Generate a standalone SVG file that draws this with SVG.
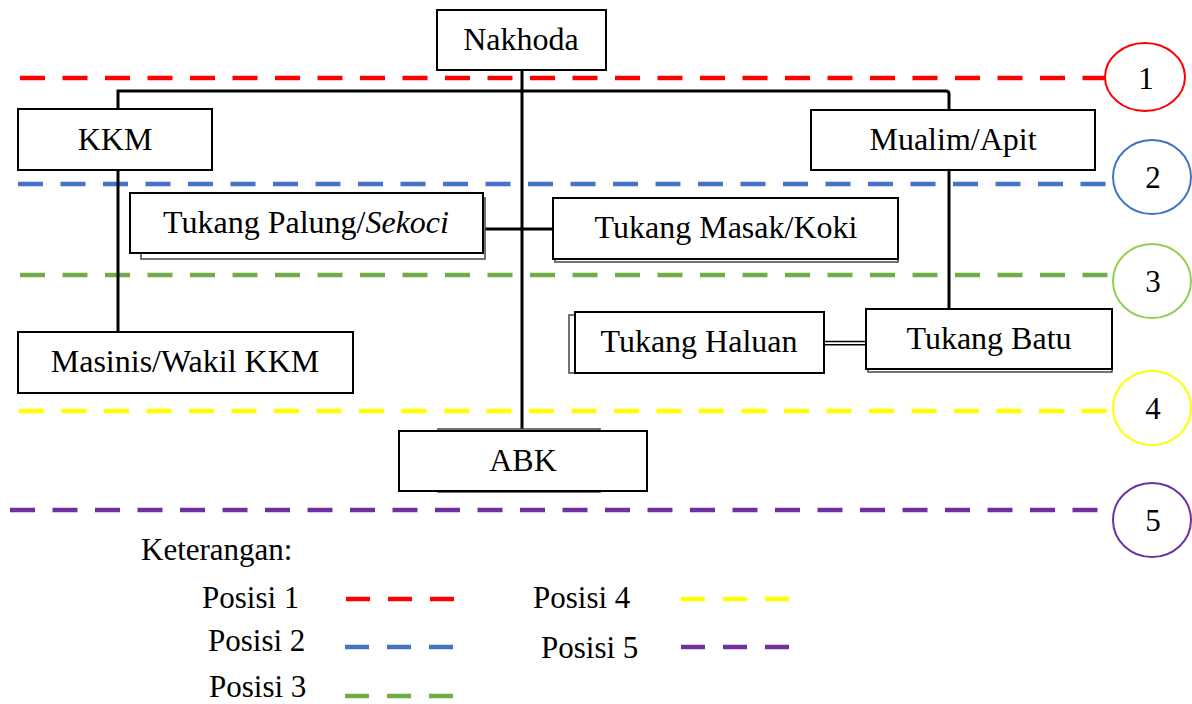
<svg xmlns="http://www.w3.org/2000/svg" width="1192" height="704" viewBox="0 0 1192 704">
<style>
.box{fill:#fff;stroke:#000;stroke-width:2}
.back{fill:#fff;stroke:#444;stroke-width:1.5}
.t{font-family:"Liberation Serif","Times New Roman",serif;font-size:32px;fill:#000;text-anchor:middle}
.n{font-family:"Liberation Serif","Times New Roman",serif;font-size:31px;fill:#000;text-anchor:middle}
.tl{font-family:"Liberation Serif","Times New Roman",serif;font-size:31px;fill:#000}
.c{fill:none;stroke:#000;stroke-width:3}
.d{fill:none;stroke-width:4.5;stroke-dasharray:25 17.5}
.ld{fill:none;stroke-width:4.5;stroke-dasharray:24 18}
.circ{fill:#fff;stroke-width:2}
</style>
<rect width="1192" height="704" fill="#fff"/>
<g id="levels">
<line class="d" x1="20" y1="78" x2="1105" y2="78" stroke="#ff0000"/>
<line class="d" x1="18" y1="184" x2="1113" y2="184" stroke="#4472c4"/>
<line class="d" x1="20" y1="275" x2="1113" y2="275" stroke="#70ad47"/>
<line class="d" x1="19" y1="411" x2="1113" y2="411" stroke="#ffff00"/>
<line class="d" x1="10" y1="510" x2="1103" y2="510" stroke="#7030a0"/>
</g>
<g id="connectors">
<line class="c" x1="522" y1="70" x2="522" y2="431"/>
<path class="c" d="M118 109 V91 H946 Q949 91 949 94 V110"/>
<line class="c" x1="118" y1="170" x2="118" y2="332"/>
<line class="c" x1="949" y1="170" x2="949" y2="309"/>
<line class="c" x1="483" y1="229" x2="553" y2="229"/>
<line x1="824" y1="341.5" x2="866" y2="341.5" stroke="#000" stroke-width="1.6"/>
<line x1="824" y1="344.8" x2="866" y2="344.8" stroke="#000" stroke-width="1.6"/>
</g>
<g id="nakhoda"><rect class="box" x="437" y="10" width="169" height="60"/><text class="t" x="521" y="50">Nakhoda</text></g>
<g id="kkm"><rect class="box" x="18" y="109" width="194" height="61"/><text class="t" x="115" y="150">KKM</text></g>
<g id="mualim"><rect class="box" x="811" y="110" width="284" height="60"/><text class="t" x="953" y="150">Mualim/Apit</text></g>
<g id="palung"><rect class="back" x="141" y="198" width="344" height="61"/><rect class="box" x="130" y="193" width="353" height="60"/><text class="t" x="306" y="233">Tukang Palung/<tspan font-style="italic">Sekoci</tspan></text></g>
<g id="masak"><rect class="back" x="555" y="201" width="343" height="61"/><rect class="box" x="553" y="198" width="345" height="61"/><text class="t" x="726" y="238">Tukang Masak/Koki</text></g>
<g id="haluan"><rect class="back" x="569" y="315" width="251" height="58"/><rect class="box" x="575" y="312" width="249" height="61"/><text class="t" x="699" y="352">Tukang Haluan</text></g>
<g id="batu"><rect class="back" x="868" y="312" width="244" height="60"/><rect class="box" x="866" y="309" width="246" height="60"/><text class="t" x="989" y="349">Tukang Batu</text></g>
<g id="masinis"><rect class="box" x="18" y="332" width="335" height="61"/><text class="t" x="185" y="372">Masinis/Wakil KKM</text></g>
<g id="abk"><rect class="back" x="438" y="429" width="162" height="63"/><rect class="box" x="399" y="431" width="248" height="60"/><text class="t" x="523" y="471">ABK</text></g>
<g id="circles">
<ellipse class="circ" cx="1145" cy="77" rx="40" ry="34" stroke="#ff0000"/><text class="n" x="1146" y="89">1</text>
<ellipse class="circ" cx="1152" cy="177" rx="39" ry="37" stroke="#4472c4"/><text class="n" x="1153" y="188">2</text>
<ellipse class="circ" cx="1152" cy="281" rx="39" ry="37" stroke="#92d050"/><text class="n" x="1153" y="292">3</text>
<ellipse class="circ" cx="1152" cy="408" rx="39" ry="37" stroke="#ffff00"/><text class="n" x="1153" y="419">4</text>
<ellipse class="circ" cx="1152" cy="520" rx="39" ry="37" stroke="#7030a0"/><text class="n" x="1153" y="531">5</text>
</g>
<g id="legend">
<text class="tl" x="141" y="560">Keterangan:</text>
<text class="tl" x="202" y="608">Posisi 1</text>
<line class="ld" x1="346" y1="599" x2="456" y2="599" stroke="#ff0000"/>
<text class="tl" x="208" y="651">Posisi 2</text>
<line class="ld" x1="345" y1="647" x2="455" y2="647" stroke="#4472c4"/>
<text class="tl" x="209" y="697">Posisi 3</text>
<line class="ld" x1="345" y1="696" x2="455" y2="696" stroke="#70ad47"/>
<text class="tl" x="533" y="608">Posisi 4</text>
<line class="ld" x1="681" y1="599" x2="791" y2="599" stroke="#ffff00"/>
<text class="tl" x="541" y="658">Posisi 5</text>
<line class="ld" x1="681" y1="647" x2="791" y2="647" stroke="#7030a0"/>
</g>
</svg>
